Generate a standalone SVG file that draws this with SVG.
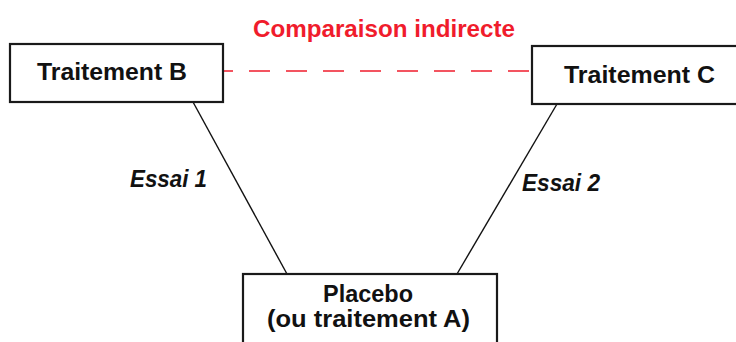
<svg xmlns="http://www.w3.org/2000/svg" width="736" height="342" viewBox="0 0 736 342">
<style>
.box{fill:#fff;stroke:#1a1a1a;stroke-width:2.2}
.lbl{font-family:"Liberation Sans",Arial,sans-serif;font-weight:bold;font-size:24px;fill:#111}
.it{font-style:italic;font-size:23px}
.red{fill:#f01c2c}
.edge{stroke:#111;stroke-width:1.4;fill:none}
.dash{stroke:#f01c2c;stroke-width:1.6;fill:none;stroke-dasharray:21 16;stroke-dashoffset:11}
</style>
<rect width="736" height="342" fill="#fff"/>
<g id="connectors">
<line class="edge" x1="193" y1="102" x2="287" y2="274"/>
<line class="edge" x1="557" y1="104" x2="457" y2="274"/>
<line class="dash" x1="223" y1="71" x2="532" y2="71"/>
<text class="lbl it" x="130" y="187" textLength="77" lengthAdjust="spacingAndGlyphs">Essai 1</text>
<text class="lbl it" x="522" y="191" textLength="78" lengthAdjust="spacingAndGlyphs">Essai 2</text>
<text class="lbl red" x="253" y="37" textLength="262" lengthAdjust="spacingAndGlyphs">Comparaison indirecte</text>
</g>
<g id="node-b">
<rect class="box" x="10" y="44" width="213" height="58"/>
<text class="lbl" x="37" y="80" textLength="150" lengthAdjust="spacingAndGlyphs">Traitement B</text>
</g>
<g id="node-c">
<rect class="box" x="532" y="46" width="220" height="58"/>
<text class="lbl" x="564" y="83" textLength="151" lengthAdjust="spacingAndGlyphs">Traitement C</text>
</g>
<g id="node-a">
<rect class="box" x="243" y="274" width="254" height="90"/>
<text class="lbl" x="323" y="302" textLength="90" lengthAdjust="spacingAndGlyphs">Placebo</text>
<text class="lbl" x="267" y="327" textLength="203" lengthAdjust="spacingAndGlyphs">(ou traitement A)</text>
</g>
</svg>
